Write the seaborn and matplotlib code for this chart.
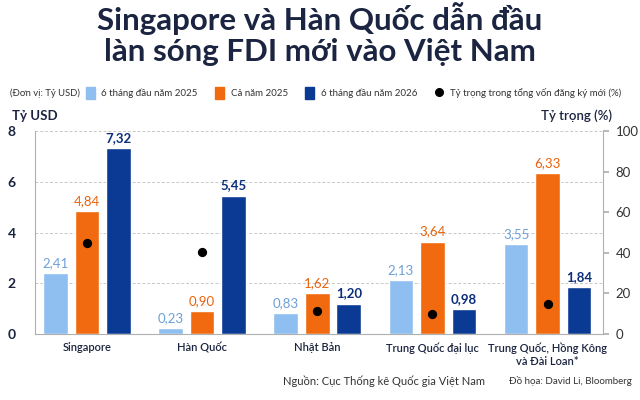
import numpy as np
import pandas as pd
import seaborn as sns
import matplotlib.pyplot as plt
from matplotlib.patches import Patch
from matplotlib.lines import Line2D

# data (billion USD)
countries = ["Singapore", "Hàn Quốc", "Nhật Bản", "Trung Quốc đại lục",
             "Trung Quốc, Hồng Kông\nvà Đài Loan*"]
h1_2025 = [2.41, 0.23, 0.83, 2.13, 3.55]
fy_2025 = [4.84, 0.90, 1.62, 3.64, 6.33]
h1_2026 = [7.32, 5.45, 1.20, 0.98, 1.84]
share_pct = [44.6, 40.3, 11.3, 9.7, 14.8]

series = ["6 tháng đầu năm 2025", "Cả năm 2025", "6 tháng đầu năm 2026"]
colors = ["#8fbff0", "#f26a0f", "#0b3a94"]
label_colors = ["#6e9fd6", "#e8620c", "#0b2f7a"]
navy = "#1b2440"

df = pd.DataFrame({
    "country": countries * 3,
    "value": h1_2025 + fy_2025 + h1_2026,
    "series": [s for s in series for _ in countries],
})

sns.set_theme(style="white")
plt.rcParams["font.family"] = ["Lato", "DejaVu Sans"]

fig = plt.figure(figsize=(6.4, 4.0), dpi=100)
ax = fig.add_axes([35 / 640, 1 - 334 / 400, 568 / 640, 203 / 400])

sns.barplot(data=df, x="country", y="value", hue="series", hue_order=series,
            palette=colors, width=0.82, gap=0.22, saturation=1, ax=ax,
            legend=False)

for cont, c in zip(ax.containers, label_colors):
    labels = [f"{b.get_height():.2f}".replace(".", ",") for b in cont]
    ax.bar_label(cont, labels=labels, padding=3, color=c, fontsize=9.5,
                 fontweight="bold" if c == label_colors[2] else "normal")

ax.set_ylim(0, 8)
ax.set_xlim(-0.45, len(countries) - 0.52)
ax.set_yticks([0, 2, 4, 6, 8])
ax.set_xlabel("")
ax.set_ylabel("")
ax.grid(axis="y", color="#c8c8c8", linestyle=(0, (3, 2)), linewidth=0.7)
ax.set_axisbelow(True)
for s in ["top", "right"]:
    ax.spines[s].set_visible(False)
for s in ["left", "bottom"]:
    ax.spines[s].set_color("#b0b0b0")
    ax.spines[s].set_linewidth(0.8)
ax.tick_params(axis="y", length=0, labelsize=10, labelcolor=navy, pad=14)
ax.tick_params(axis="x", length=0, labelsize=8, labelcolor=navy, pad=6)
for t in ax.get_yticklabels():
    t.set_fontweight("bold")
for t in ax.get_xticklabels():
    t.set_fontweight("semibold")

ax2 = ax.twinx()
ax2.scatter(np.arange(len(countries)), share_pct, s=32, color="black",
            zorder=5)
ax2.set_ylim(0, 100)
ax2.set_yticks(range(0, 101, 20))
ax2.grid(False)
for s in ["top", "left", "bottom"]:
    ax2.spines[s].set_visible(False)
ax2.spines["right"].set_color("#b0b0b0")
ax2.spines["right"].set_linewidth(0.8)
ax2.tick_params(axis="y", length=4, color="#b0b0b0", labelsize=9.5,
                labelcolor="#333333", pad=5)

# title
fig.text(0.5, 0.995, "Singapore và Hàn Quốc dẫn đầu\nlàn sóng FDI mới vào Việt Nam",
         ha="center", va="top", fontsize=22.5, fontweight="bold", color=navy,
         linespacing=1.15)

# legend row
fig.text(10 / 640, 1 - 93 / 400, "(Đơn vị: Tỷ USD)", fontsize=6.8,
         color="#333333", va="center")
handles = [Patch(color=c) for c in colors]
handles.append(Line2D([], [], marker="o", color="black", linestyle="",
                      markersize=5.5))
labels = series + ["Tỷ trọng trong tổng vốn đăng ký mới (%)"]
fig.legend(handles, labels, loc="center left",
           bbox_to_anchor=(77 / 640, 1 - 93 / 400), ncol=4, frameon=False,
           fontsize=7, handlelength=0.9, handleheight=1.4,
           handletextpad=0.7, columnspacing=1.8, labelcolor="#333333")

fig.text(12 / 640, 1 - 116 / 400, "Tỷ USD", fontsize=9.5, fontweight="bold",
         color=navy, va="center")
fig.text(612 / 640, 1 - 116 / 400, "Tỷ trọng (%)", fontsize=9.5,
         fontweight="semibold", color=navy, va="center", ha="right")

fig.text(485 / 640, 1 - 381 / 400, "Nguồn: Cục Thống kê Quốc gia Việt Nam",
         fontsize=8, color="#333333", ha="right", va="center")
fig.text(632 / 640, 1 - 381 / 400, "Đồ họa: David Li, Bloomberg",
         fontsize=7, color="#333333", ha="right", va="center")

fig.savefig("out.png", dpi=100, facecolor="white")
